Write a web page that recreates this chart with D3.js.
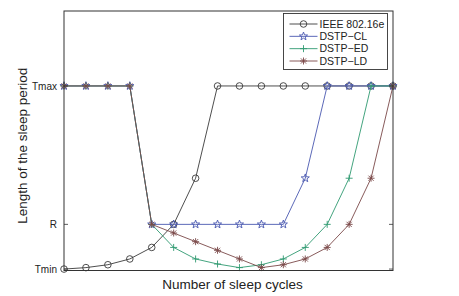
<!DOCTYPE html>
<html>
<head>
<meta charset="utf-8">
<script src="https://cdn.jsdelivr.net/npm/d3@7"></script>
<style>
  body { margin: 0; background: #fff; }
  svg { font-family: "Liberation Sans", Arial, sans-serif; }
  .frame { fill: none; stroke: #333; stroke-width: 1; }
  .tick-lbl { font-size: 10px; fill: #222; }
  .axis-label { font-size: 13.5px; fill: #222; }
  .legend-text { font-size: 10.5px; fill: #222; }
</style>
</head>
<body>
<svg id="chart" width="459" height="296"></svg>
<script>
// sleep cycle index
const cycles = [0, 1, 2, 3, 4, 5, 6, 7, 8, 9, 10, 11, 12, 13, 14, 15];

// sleep period length (Tmin = 1, R = 32, Tmax = 128)
const ieee   = [1, 2, 4, 8, 16, 32, 64, 128, 128, 128, 128, 128, 128, 128, 128, 128];
const dstpCL = [128, 128, 128, 128, 32, 32, 32, 32, 32, 32, 32, 64, 128, 128, 128, 128];
const dstpED = [128, 128, 128, 128, 32, 16, 8, 4.5, 2, 4, 8, 16, 32, 64, 128, 128];
const dstpLD = [128, 128, 128, 128, 32, 26, 20, 14, 8, 2, 4, 8, 16, 32, 64, 128];

const yTickVals = [1, 32, 128];
const yTickLabels = ["Tmin", "R", "Tmax"];

const seriesNames = ["IEEE 802.16e", "DSTP\u2212CL", "DSTP\u2212ED", "DSTP\u2212LD"];
const seriesColors = ["#3a3a3a", "#4a58b0", "#2f9a70", "#7a4848"];
const seriesMarkers = ["circle", "star", "plus", "asterisk"];

const series = [ieee, dstpCL, dstpED, dstpLD].map((vals, k) => ({
    name: seriesNames[k],
    color: seriesColors[k],
    marker: seriesMarkers[k],
    values: vals.map((v, i) => ({ x: cycles[i], y: v }))
}));

const width = 459, height = 296;
const padding = { top: 11, right: 66, bottom: 25.5, left: 64 };
const innerW = width - padding.left - padding.right;
const innerH = height - padding.top - padding.bottom;

const x = d3.scaleLinear().domain([0, 15]).range([0, innerW]);
const y = d3.scaleLinear().domain([0, 180]).range([innerH, 0]);

const svg = d3.select("#chart");
const g = svg.append("g").attr("transform", `translate(${padding.left},${padding.top})`);

// markers
function drawMarker(sel, type, color) {
    if (type === "circle") {
        sel.append("circle").attr("r", 3.3).attr("fill", "none").attr("stroke", color).attr("stroke-width", 0.9);
    } else if (type === "star") {
        const pts = [];
        for (let i = 0; i < 10; i++) {
            const r = i % 2 === 0 ? 4.3 : 1.8;
            const a = -Math.PI / 2 + i * Math.PI / 5;
            pts.push([r * Math.cos(a), r * Math.sin(a)]);
        }
        sel.append("path").attr("d", d3.line()(pts) + "Z")
            .attr("fill", "none").attr("stroke", color).attr("stroke-width", 0.9);
    } else if (type === "plus") {
        sel.append("path").attr("d", "M-3.5,0H3.5M0,-3.5V3.5")
            .attr("stroke", color).attr("stroke-width", 0.9);
    } else if (type === "asterisk") {
        sel.append("path").attr("d", "M-3.5,0H3.5M0,-3.5V3.5M-2.6,-2.6L2.6,2.6M-2.6,2.6L2.6,-2.6")
            .attr("stroke", color).attr("stroke-width", 0.9);
    }
}

const line = d3.line().x(d => x(d.x)).y(d => y(d.y));

series.forEach(s => {
    const sg = g.append("g").attr("class", "series");
    sg.append("path")
        .datum(s.values)
        .attr("d", line)
        .attr("fill", "none")
        .attr("stroke", s.color)
        .attr("stroke-width", 0.9);
    sg.selectAll(".mk")
        .data(s.values)
        .enter()
        .append("g")
        .attr("class", "mk")
        .attr("transform", d => `translate(${x(d.x)},${y(d.y)})`)
        .each(function () { drawMarker(d3.select(this), s.marker, s.color); });
});

// frame
g.append("rect")
    .attr("class", "frame")
    .attr("x", 0).attr("y", 0)
    .attr("width", innerW).attr("height", innerH);

// y ticks (inner, both sides)
const yAxisL = d3.axisLeft(y).tickValues(yTickVals).tickSize(0).tickPadding(7)
    .tickFormat((d, i) => yTickLabels[i]);
const yl = g.append("g").call(yAxisL);
yl.select(".domain").remove();
yl.selectAll(".tick text").attr("class", "tick-lbl").attr("font-size", null).attr("font-family", null);

yTickVals.forEach(v => {
    g.append("line").attr("x1", 0).attr("x2", 4).attr("y1", y(v)).attr("y2", y(v))
        .attr("stroke", "#333").attr("stroke-width", 0.8);
    g.append("line").attr("x1", innerW - 4).attr("x2", innerW).attr("y1", y(v)).attr("y2", y(v))
        .attr("stroke", "#333").attr("stroke-width", 0.8);
});

// axis titles
g.append("text")
    .attr("class", "axis-label")
    .attr("x", innerW / 2 + 4)
    .attr("y", innerH + 18)
    .attr("text-anchor", "middle")
    .text("Number of sleep cycles");

g.append("text")
    .attr("class", "axis-label")
    .attr("transform", `translate(${-padding.left + 27},${innerH / 2 + 5})rotate(-90)`)
    .attr("text-anchor", "middle")
    .text("Length of the sleep period");

// legend
const legend = svg.append("g").attr("transform", "translate(283.5,13.5)");
legend.append("rect")
    .attr("width", 104).attr("height", 56)
    .attr("fill", "#fff").attr("stroke", "#333").attr("stroke-width", 0.9);

const rowY = d3.scalePoint().domain(seriesNames).range([10.5, 47.5]);
series.forEach(s => {
    const row = legend.append("g").attr("transform", `translate(0,${rowY(s.name)})`);
    row.append("line").attr("x1", 6).attr("x2", 34).attr("stroke", s.color).attr("stroke-width", 0.9);
    const mk = row.append("g").attr("transform", "translate(20,0)");
    drawMarker(mk, s.marker, s.color);
    row.append("text")
        .attr("class", "legend-text")
        .attr("x", 36)
        .attr("dy", "0.35em")
        .text(s.name);
});
</script>
</body>
</html>
